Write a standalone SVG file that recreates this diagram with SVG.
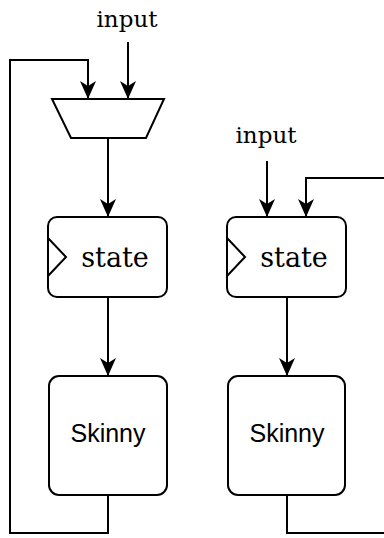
<svg xmlns="http://www.w3.org/2000/svg" width="384" height="538" viewBox="0 0 384 538">
<defs>
<style>
.ln{fill:none;stroke:#000;stroke-width:2;stroke-linejoin:miter}
.box{fill:#fff;stroke:#000;stroke-width:2}
.serif{font-family:"DejaVu Serif","Liberation Serif",serif;fill:#000}
.sans{font-family:"Liberation Sans",Arial,sans-serif;fill:#000;font-size:25px}
</style>
<marker id="ah" markerUnits="userSpaceOnUse" viewBox="0 0 18 18" markerWidth="18" markerHeight="18" refX="17" refY="9" orient="auto">
<path d="M18,9 L0,1 L5,9 L0,17 Z" fill="#000"/>
</marker>
</defs>
<rect width="384" height="538" fill="#fff"/>
<g id="connectors">
<path class="ln" d="M128,42 V98" marker-end="url(#ah)"/>
<path class="ln" d="M108,495 V533 H10 V60 H88 V98" marker-end="url(#ah)"/>
<path class="ln" d="M108,138 V216" marker-end="url(#ah)"/>
<path class="ln" d="M108,297 V375" marker-end="url(#ah)"/>
<path class="ln" d="M267,161 V216" marker-end="url(#ah)"/>
<path class="ln" d="M287,495 V533 H388 V178 H306 V216" marker-end="url(#ah)"/>
<path class="ln" d="M287,297 V375" marker-end="url(#ah)"/>
</g>
<g id="input1"><text class="serif" x="127" y="27" font-size="23" text-anchor="middle">input</text></g>
<g id="input2"><text class="serif" x="266" y="143" font-size="23" text-anchor="middle">input</text></g>
<g id="mux"><polygon class="box" points="52,99 164,99 146,138 71,138"/></g>
<g id="state1">
<rect class="box" x="48" y="217" width="119" height="80" rx="9"/>
<polyline class="ln" points="48,238 66,257 48,276"/>
<text class="serif" x="115" y="267" font-size="27" text-anchor="middle">state</text>
</g>
<g id="state2">
<rect class="box" x="227" y="217" width="119" height="80" rx="9"/>
<polyline class="ln" points="227,238 245,257 227,276"/>
<text class="serif" x="294" y="267" font-size="27" text-anchor="middle">state</text>
</g>
<g id="skinny1">
<rect class="box" x="49" y="376" width="118" height="119" rx="10"/>
<text class="sans" x="108" y="442" text-anchor="middle">Skinny</text>
</g>
<g id="skinny2">
<rect class="box" x="228" y="376" width="117" height="119" rx="10"/>
<text class="sans" x="287" y="442" text-anchor="middle">Skinny</text>
</g>
</svg>
